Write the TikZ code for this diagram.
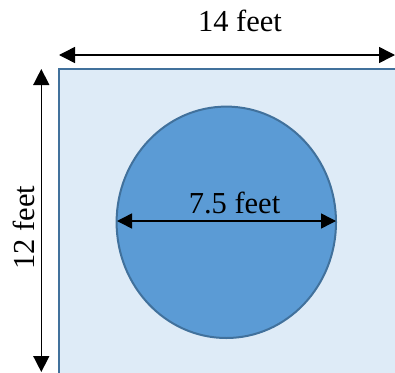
\documentclass[tikz,border=0pt]{standalone}
\usepackage{fontspec}
\usepackage{graphicx}
\newfontfamily\dimfont{Liberation Serif}
\usetikzlibrary{arrows.meta,shapes.geometric}
\definecolor{rectfill}{HTML}{DEEBF7}
\definecolor{edgeblue}{HTML}{41719C}
\definecolor{circfill}{HTML}{5B9BD5}
\tikzset{
  dimarrow/.style={draw=black,line width=1.5pt,{Triangle[length=16pt,width=16pt]}-{Triangle[length=16pt,width=16pt]}},
  diamarrow/.style={draw=black,line width=1.5pt,{Triangle[length=15pt,width=15pt]}-{Triangle[length=15pt,width=15pt]}},
  lbl/.style={inner sep=0pt,font=\dimfont\fontsize{30.5pt}{36pt}\selectfont},
  plate/.style={draw=edgeblue,fill=rectfill,line width=2pt,rectangle,inner sep=0pt},
  pool/.style={draw=edgeblue,fill=circfill,line width=2pt,ellipse,inner sep=0pt}
}
\begin{document}
\begin{tikzpicture}[x=1pt,y=1pt]
\useasboundingbox (0,0) rectangle (395,-372);
\node[plate,anchor=north west,minimum width=400pt,minimum height=330pt] (r) at (58.3,-68.3) {};
\node[pool,minimum width=219.4pt,minimum height=231.4pt] (c) at (226.3,-222.3) {};
\coordinate (tl) at (59,-55);
\coordinate (tr) at (395,-55);
\coordinate (lt) at (41.3,-69);
\coordinate (lb) at (41.3,-372);
\draw[dimarrow] (tl) -- (tr);
\draw[dimarrow] (lt) -- (lb);
\coordinate (dl) at (117,-221);
\coordinate (dr) at (336,-221);
\draw[diamarrow] (dl) -- (dr);
\node[lbl,anchor=base] (t14) at (240,-31.7) {14 feet};
\node[lbl,anchor=base] (t75) at (234.5,-213.3) {7.5 feet};
\node[lbl,anchor=east] (t12) at (35,-227.5) {\rotatebox{90}{12 feet}};
\end{tikzpicture}
\end{document}
